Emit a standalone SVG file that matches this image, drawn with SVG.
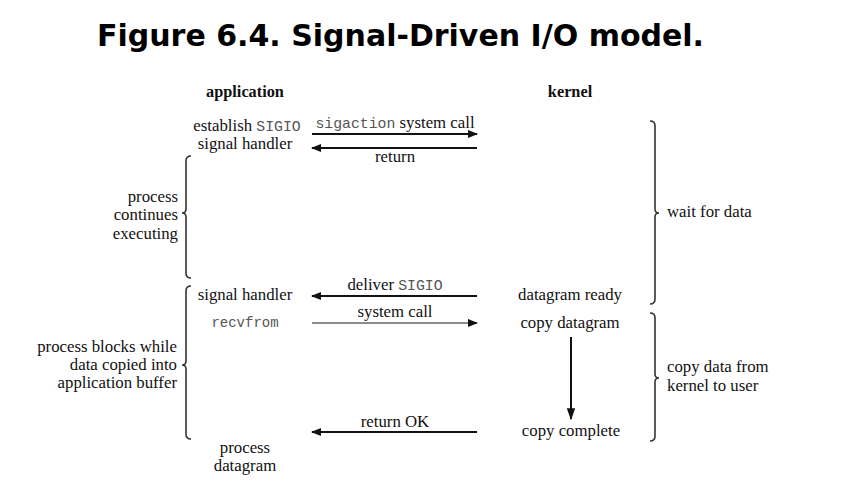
<svg xmlns="http://www.w3.org/2000/svg" width="846" height="486" viewBox="0 0 846 486">
<style>
.t{font-family:'Liberation Serif','Times New Roman',serif;font-size:16.8px;fill:#111}
.b{font-weight:bold;font-size:16.3px}
.m{font-family:'Liberation Mono','Courier New',monospace;font-size:14.8px;fill:#555}
.title{font-family:'DejaVu Sans',Verdana,sans-serif;font-weight:bold;font-size:30px;fill:#000}
.ln{stroke:#111;stroke-width:2;fill:none}
.lt{stroke:#666;stroke-width:1.3;fill:none}
.br{stroke:#333;stroke-width:1.6;fill:none}
</style>
<defs>
<marker id="ah" viewBox="0 0 10 10" refX="9" refY="5" markerWidth="10" markerHeight="10" markerUnits="userSpaceOnUse" orient="auto"><path d="M0,1 L10,5 L0,9 Z" fill="#111"/></marker>
<marker id="ah2" viewBox="0 0 10 10" refX="9" refY="5" markerWidth="12" markerHeight="12" markerUnits="userSpaceOnUse" orient="auto"><path d="M0,1.5 L10,5 L0,8.5 Z" fill="#111"/></marker>
</defs>
<rect width="846" height="486" fill="#fff"/>
<text class="title" x="97" y="46">Figure 6.4. Signal-Driven I/O model.</text>

<g id="headers">
<text class="t b" x="245" y="97" text-anchor="middle">application</text>
<text class="t b" x="570" y="97" text-anchor="middle">kernel</text>
</g>

<g id="app-establish">
<text class="t" x="247" y="131" text-anchor="middle">establish <tspan class="m">SIGIO</tspan></text>
<text class="t" x="245" y="149" text-anchor="middle">signal handler</text>
</g>
<g id="app-continues">
<text class="t" x="178" y="202" text-anchor="end">process</text>
<text class="t" x="178" y="220" text-anchor="end">continues</text>
<text class="t" x="178" y="239" text-anchor="end">executing</text>
</g>
<g id="app-signal-handler"><text class="t" x="245" y="300" text-anchor="middle">signal handler</text></g>
<g id="app-recvfrom"><text class="m" x="245" y="327" text-anchor="middle" style="font-size:14px">recvfrom</text></g>
<g id="app-blocks">
<text class="t" x="177" y="352" text-anchor="end">process blocks while</text>
<text class="t" x="177" y="370" text-anchor="end">data copied into</text>
<text class="t" x="177" y="388" text-anchor="end">application buffer</text>
</g>
<g id="app-process-datagram">
<text class="t" x="245" y="453" text-anchor="middle">process</text>
<text class="t" x="245" y="471" text-anchor="middle">datagram</text>
</g>

<g id="k-ready"><text class="t" x="570" y="300" text-anchor="middle">datagram ready</text></g>
<g id="k-copy"><text class="t" x="570" y="328" text-anchor="middle">copy datagram</text></g>
<g id="k-complete"><text class="t" x="571" y="436" text-anchor="middle">copy complete</text></g>
<g id="k-wait"><text class="t" x="667" y="217">wait for data</text></g>
<g id="k-copyuser">
<text class="t" x="667" y="372">copy data from</text>
<text class="t" x="667" y="391">kernel to user</text>
</g>

<g id="braces">
<path class="br" d="M191,156 Q186,156 186,161 L186,209 Q186,213 182,213 Q186,213 186,217 L186,273 Q186,278 191,278"/>
<path class="br" d="M191,286 Q186,286 186,291 L186,361 Q186,365 182,365 Q186,365 186,369 L186,434 Q186,439 191,439"/>
<path class="br" d="M650,121 Q655,121 655,126 L655,209 Q655,213 659,213 Q655,213 655,217 L655,299 Q655,304 650,304"/>
<path class="br" d="M650,313 Q655,313 655,318 L655,374 Q655,378 659,378 Q655,378 655,382 L655,436 Q655,441 650,441"/>
</g>

<g id="connectors">
<path class="ln" d="M312,134 L477,134" marker-end="url(#ah)"/>
<text class="t" x="395" y="128" text-anchor="middle"><tspan class="m">sigaction</tspan> system call</text>
<path class="ln" d="M477,148 L312,148" marker-end="url(#ah)"/>
<text class="t" x="395" y="162" text-anchor="middle">return</text>
<path class="ln" d="M477,296 L312,296" marker-end="url(#ah)"/>
<text class="t" x="395" y="290" text-anchor="middle">deliver <tspan class="m">SIGIO</tspan></text>
<path class="lt" d="M312,323 L477,323" marker-end="url(#ah)"/>
<text class="t" x="395" y="317" text-anchor="middle">system call</text>
<path class="ln" d="M477,432 L312,432" marker-end="url(#ah)"/>
<text class="t" x="395" y="427" text-anchor="middle">return OK</text>
<path class="ln" d="M571,337 L571,419" marker-end="url(#ah2)"/>
</g>
</svg>
